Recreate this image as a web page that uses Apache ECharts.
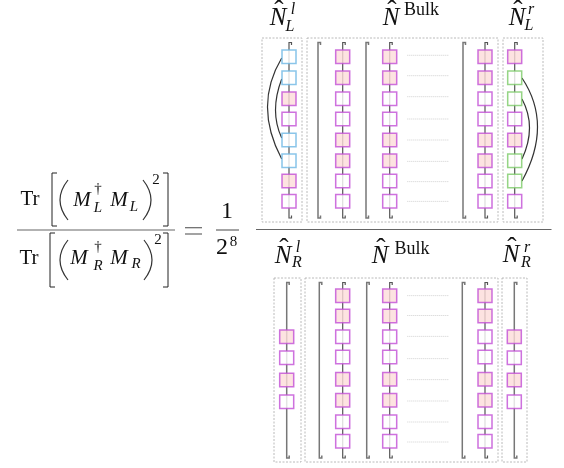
<!DOCTYPE html>
<html><head><meta charset="utf-8">
<style>html,body{margin:0;padding:0;background:#fff}#c{width:564px;height:468px}</style>
<script src="https://cdn.jsdelivr.net/npm/echarts@6/dist/echarts.min.js"></script></head>
<body><div id="c"></div>
<script>
// structure of the diagram
const topRows=[56.7,77.7,98.7,119,140,160.7,181,201.3];
const topDotRows=[55.3,75.7,96.7,119,140,161.3,181.7,201.3];
const bottomRows=[295.7,316,336.7,357,379.3,400.3,421.7,441.3];
const bottomDotRows=[295.7,315.5,336.3,358.7,379.7,401,422,442];
const bottomSideRows=[336.7,357.7,380,401.7];
const bulkColumns=[342.7,389.7,485];
const topBrackets=[318,366,463];
const bottomBrackets=[319.3,366.7,462.3];
const topLeftKinds=['B','B','P','W','B','B','P','W'];
const topRightKinds=['P','G','G','W','P','G','G','W'];
const bulkKinds=['P','P','W','W','P','P','W','W'];
const sideKinds=['P','W','P','W'];
const topSpan=[42.5,218], bottomSpan=[282.5,458];
const columnsX={topLeft:289,topRight:514.7,bottomLeft:286.7,bottomRight:514.3};
const dashedBoxes=[[262,38,302,222],[307,38,498,222],[503,38,543,222],[274,278,301,462],[305,278,498,462],[502,278,527,462]];
const dotSpan=[407.3,449];
const fractionBars=[[17,175,230],[216,239,230],[256,551.5,229.5],[185,202,227.7],[185,202,234]];
const squareBrackets=[[52,57,173,226],[168,163,173,226],[50,55,233,287],[168,163,233,287]];
const curves=[
 [281.7,58,267.5,107,281.7,159],[281.7,79,275.5,110,281.7,138],
 [522,78,537.5,127,522,181],[522,99,529.5,128,522,159],
 [68,180,60,200,68,220],[143,180,151,200,143,220],
 [68,240,60,260,68,280],[144,240,152,260,144,280]];
const mathTexts=[
 ['Tr',30,199,21,0],['M',82,200,21,1],['†',98,189,15,0],['L',98,208,15,1],['M',119,200,21,1],['L',134,207,15,1],['2',156,180,15,0],
 ['Tr',29,258,21,0],['M',79,258.5,21,1],['†',98,247,15,0],['R',98,266,15,1],['M',119,258.5,21,1],['R',136,264,15,1],['2',158,240,15,0],
 ['1',227,212,24,0],['2',222,248,24,0],['8',233.5,242,15,0],
 ['N',278,18,25,1],['ˆ',279,12,28,0],['l',293,10,16,1],['L',290,27,16,1],
 ['N',391,18,25,1],['ˆ',392,12,28,0],['Bulk',421.5,10,18,0],
 ['N',517,18,25,1],['ˆ',518,12,28,0],['r',531,10,16,1],['L',529,26,16,1],
 ['N',283,256,25,1],['ˆ',284,250,28,0],['l',298,248,16,1],['R',297,263,16,1],
 ['N',380,256,25,1],['ˆ',381,250,28,0],['Bulk',412,249,18,0],
 ['N',511,255,25,1],['ˆ',512,249,28,0],['r',527,248,16,1],['R',526,263,16,1]];

const palette={
 P:{fill:'#fddcd9',edge:'#c24fd6'},W:{fill:'#ffffff',edge:'#c24fd6'},
 B:{fill:'#ffffff',edge:'#6db6e3'},G:{fill:'#ffffff',edge:'#7ccb68'}};
const polyline=(data,color,width,type)=>({type:'line',data,symbol:'none',silent:true,z:2,clip:false,
  lineStyle:{color,width,type:type||'solid',cap:'butt',join:'miter'},animation:false});
const series=[];
// hooked wires
function wire(x,span,color,width){
  series.push(polyline([[x+2.5,span[0]+2.5],[x+2.5,span[0]],[x,span[0]],[x,span[1]],[x+2.5,span[1]],[x+2.5,span[1]-2.5]],color,width));
}
[columnsX.topLeft,columnsX.topRight,...bulkColumns].forEach(x=>wire(x,topSpan,'#555',1.2));
[columnsX.bottomLeft,columnsX.bottomRight].forEach(x=>wire(x,bottomSpan,'#777',1.5));
bulkColumns.forEach(x=>wire(x,bottomSpan,'#555',1.2));
topBrackets.forEach(x=>wire(x,topSpan,'#777',1.5));
bottomBrackets.forEach(x=>wire(x,bottomSpan,'#777',1.5));
dashedBoxes.forEach(b=>series.push(polyline([[b[0],b[1]],[b[2],b[1]],[b[2],b[3]],[b[0],b[3]],[b[0],b[1]]],'#a8a8a8',0.8,[2,1.5])));
topDotRows.concat(bottomDotRows).forEach(y=>series.push(polyline([[dotSpan[0],y],[dotSpan[1],y]],'#c4c4c4',0.8,[1,1])));
fractionBars.forEach(b=>series.push(polyline([[b[0],b[2]],[b[1],b[2]]],'#666',1.2)));
squareBrackets.forEach(b=>series.push(polyline([[b[1],b[2]],[b[0],b[2]],[b[0],b[3]],[b[1],b[3]]],'#222',1)));
// squares
const squares=[];
const addCol=(x,rows,kinds)=>rows.forEach((y,i)=>squares.push({value:[x,y],itemStyle:{color:palette[kinds[i]].fill,borderColor:palette[kinds[i]].edge,borderWidth:1.5}}));
addCol(columnsX.topLeft,topRows,topLeftKinds);
addCol(columnsX.topRight,topRows,topRightKinds);
bulkColumns.forEach(x=>{addCol(x,topRows,bulkKinds);addCol(x,bottomRows,bulkKinds);});
addCol(columnsX.bottomLeft,bottomSideRows,sideKinds);
addCol(columnsX.bottomRight,bottomSideRows,sideKinds);
series.push({type:'scatter',data:squares,symbol:'rect',symbolSize:[14,13.5],z:5,silent:true,animation:false,clip:false});
// curved links and parentheses
series.push({type:'custom',data:curves,coordinateSystem:'cartesian2d',z:4,silent:true,animation:false,clip:false,
  encode:{x:0,y:1},
  renderItem:(p,api)=>{
    const a=api.coord([api.value(0),api.value(1)]),m=api.coord([api.value(2),api.value(3)]),b=api.coord([api.value(4),api.value(5)]);
    return {type:'bezierCurve',shape:{x1:a[0],y1:a[1],x2:b[0],y2:b[1],cpx1:2*m[0]-(a[0]+b[0])/2,cpy1:2*m[1]-(a[1]+b[1])/2},
      style:{stroke:'#333',lineWidth:1.2,fill:null}};
  }});
// maths text
series.push({type:'custom',data:mathTexts.map(t=>[t[1],t[2]]),coordinateSystem:'cartesian2d',z:6,silent:true,animation:false,clip:false,
  encode:{x:0,y:1},
  renderItem:(p,api)=>{
    const t=mathTexts[p.dataIndex],c=api.coord([t[1],t[2]]);
    return {type:'text',x:c[0],y:c[1],style:{text:t[0],fill:'#111',align:'center',verticalAlign:'middle',
      font:(t[4]?'italic ':'')+t[3]+'px "Liberation Serif"'}};
  }});
const chart=echarts.init(document.getElementById('c'),null,{renderer:'canvas'});
chart.setOption({
  animation:false,backgroundColor:'#fff',
  grid:{left:0,right:0,top:0,bottom:0},
  xAxis:{type:'value',min:0,max:564,show:false},
  yAxis:{type:'value',min:0,max:468,inverse:true,show:false},
  series
});
</script></body></html>
